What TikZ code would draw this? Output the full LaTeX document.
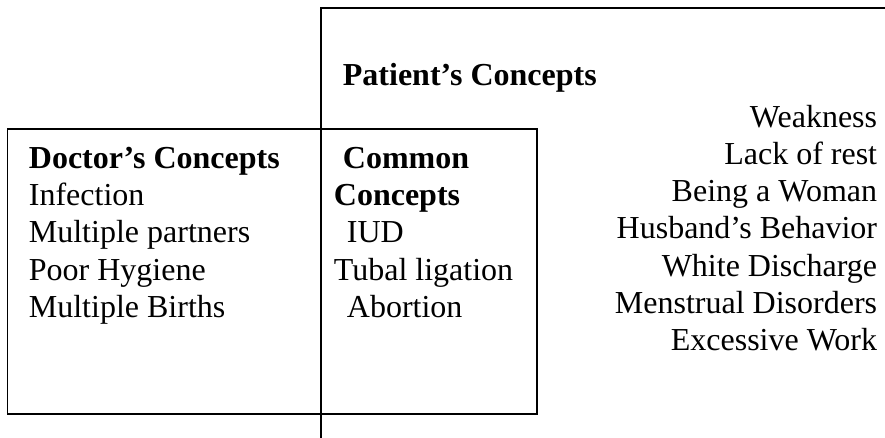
\documentclass[tikz,border=0pt]{standalone}
\usepackage{fontspec}
\setmainfont{Liberation Serif}
\begin{document}
\begin{tikzpicture}[x=1pt,y=-1pt,line width=1.8pt,
  txt/.style={anchor=base west,inner sep=0pt,font=\fontsize{32}{37}\selectfont},
  btxt/.style={anchor=base west,inner sep=0pt,font=\fontsize{32}{37}\selectfont\bfseries},
  rtxt/.style={anchor=base east,inner sep=0pt,font=\fontsize{32}{37}\selectfont}]
\useasboundingbox (0,0) rectangle (885,438);
% frame lines
\coordinate (vtop) at (321,8.3);
\coordinate (vbot) at (321,438);
\coordinate (hright) at (885,8.3);
\draw (hright) -- (vtop) -- (vbot);
\coordinate (rtl) at (7.5,129);
\coordinate (rbr) at (537,414);
\draw (rtl) rectangle (rbr);
% patient's concepts
\node[btxt] (pc) at (342,86) {Patient’s Concepts};
\node[rtxt] (p1) at (878,128) {Weakness};
\node[rtxt] (p2) at (878,165) {Lack of rest};
\node[rtxt] (p3) at (878,202) {Being a Woman};
\node[rtxt] (p4) at (878,239) {Husband’s Behavior};
\node[rtxt] (p5) at (878,276) {White Discharge};
\node[rtxt] (p6) at (878,313) {Menstrual Disorders};
\node[rtxt] (p7) at (878,350) {Excessive Work};
% doctor's concepts
\node[btxt] (dc) at (28,169) {Doctor’s Concepts};
\node[txt] (d1) at (28,206) {Infection};
\node[txt] (d2) at (28,243) {Multiple partners};
\node[txt] (d3) at (28,280) {Poor Hygiene};
\node[txt] (d4) at (28,317) {Multiple Births};
% common concepts
\node[btxt] (cc1) at (342,169) {Common};
\node[btxt] (cc2) at (333,206) {Concepts};
\node[txt] (c1) at (346,243) {IUD};
\node[txt] (c2) at (333,280) {Tubal ligation};
\node[txt] (c3) at (346,317) {Abortion};
\end{tikzpicture}
\end{document}
